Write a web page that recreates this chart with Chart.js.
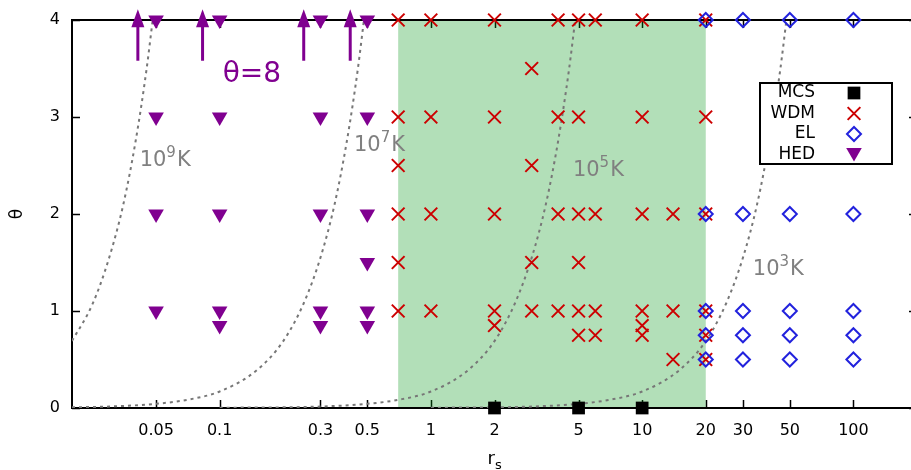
<!DOCTYPE html>
<html>
<head>
<meta charset="utf-8">
<script src="https://cdn.jsdelivr.net/npm/chart.js@4.4.1/dist/chart.umd.min.js"></script>
<style>
  html, body { margin: 0; padding: 0; background: #fff; overflow: hidden; }
  #cadre { position: relative; width: 928px; height: 470px; }
</style>
</head>
<body>
<div id="cadre"><canvas id="graphique" width="928" height="470"></canvas></div>
<script>
// Points de simulation (r_s, theta)
const mcsRs = [2, 5, 10];
const mcsTheta = [0, 0, 0];

const wdmRs = [
  0.7, 1, 2, 4, 5, 6, 10, 20,
  3,
  0.7, 1, 2, 4, 5, 10, 20,
  0.7, 3,
  0.7, 1, 2, 4, 5, 6, 10, 14, 20,
  0.7, 3, 5,
  0.7, 1, 2, 3, 4, 5, 6, 10, 14, 20,
  2, 10,
  5, 6, 10, 20,
  14, 20,
];
const wdmTheta = [
  4, 4, 4, 4, 4, 4, 4, 4,
  3.5,
  3, 3, 3, 3, 3, 3, 3,
  2.5, 2.5,
  2, 2, 2, 2, 2, 2, 2, 2, 2,
  1.5, 1.5, 1.5,
  1, 1, 1, 1, 1, 1, 1, 1, 1, 1,
  0.85, 0.85,
  0.75, 0.75, 0.75, 0.75,
  0.5, 0.5,
];

const elRs = [20, 30, 50, 100, 20, 30, 50, 100, 20, 30, 50, 100, 20, 30, 50, 100, 20, 30, 50, 100];
const elTheta = [4, 4, 4, 4, 2, 2, 2, 2, 1, 1, 1, 1, 0.75, 0.75, 0.75, 0.75, 0.5, 0.5, 0.5, 0.5];

const hedRs = [0.05, 0.05, 0.05, 0.05, 0.1, 0.1, 0.1, 0.1, 0.1, 0.3, 0.3, 0.3, 0.3, 0.3, 0.5, 0.5, 0.5, 0.5, 0.5, 0.5];
const hedTheta = [4, 3, 2, 1, 4, 3, 2, 1, 0.85, 4, 3, 2, 1, 0.85, 4, 3, 2, 1.5, 1, 0.85];

// Isothermes (pointillés gris), valeurs relevées le long des courbes
const iso9Rs = [0.02, 0.025, 0.03, 0.035, 0.04, 0.045, 0.0482];
const iso9Theta = [0.69, 1.07, 1.55, 2.1, 2.75, 3.48, 4.0];
const iso7Rs = [0.02, 0.03, 0.05, 0.07, 0.1, 0.15, 0.2, 0.25, 0.3, 0.35, 0.4, 0.45, 0.482];
const iso7Theta = [0.007, 0.015, 0.043, 0.084, 0.17, 0.39, 0.69, 1.08, 1.55, 2.1, 2.75, 3.48, 4.0];
const iso5Rs = [0.1, 0.3, 0.5, 0.7, 1, 1.5, 2, 2.5, 3, 3.5, 4, 4.5, 4.82];
const iso5Theta = [0.002, 0.015, 0.043, 0.084, 0.17, 0.39, 0.69, 1.08, 1.55, 2.1, 2.75, 3.48, 4.0];
const iso3Rs = [1, 3, 5, 7, 10, 15, 20, 25, 30, 35, 40, 45, 48.2];
const iso3Theta = [0.002, 0.015, 0.043, 0.084, 0.17, 0.39, 0.69, 1.08, 1.55, 2.1, 2.75, 3.48, 4.0];

// Flèches "θ=8" (r_s, départ, arrivée)
const flecheRs = [0.041, 0.083, 0.25, 0.415];
const flecheDe = [3.58, 3.58, 3.58, 3.58];
const flecheA = [4.11, 4.11, 4.11, 4.11];

// Axes
const xTicks = [0.05, 0.1, 0.3, 0.5, 1, 2, 5, 10, 20, 30, 50, 100];
const xTickLabels = ['0.05', '0.1', '0.3', '0.5', '1', '2', '5', '10', '20', '30', '50', '100'];
const yTicks = [0, 1, 2, 3, 4];
const zoneVerte = [0.7, 20];

const nomsSeries = ['MCS', 'WDM', 'EL', 'HED'];

// Étiquettes d'isothermes : [exposant, r_s, theta] (position du coin bas gauche)
const etiquettesIso = [
  ['9', 0.0418, 2.49],
  ['7', 0.432, 2.65],
  ['5', 4.70, 2.39],
  ['3', 33.4, 1.37],
];

const POLICE = "'DejaVu Sans', sans-serif";
Chart.defaults.font.family = POLICE;

function enPoints(rs, theta) {
  return rs.map((r, i) => ({ x: r, y: theta[i] }));
}

function isotherme(rs, theta) {
  return {
    data: enPoints(rs, theta),
    showLine: true,
    pointRadius: 0,
    borderColor: '#777777',
    borderWidth: 2,
    borderDash: [3, 4],
    cubicInterpolationMode: 'monotone',
    order: 5,
  };
}

const jeuxDonnees = [
  {
    label: nomsSeries[0],
    data: enPoints(mcsRs, mcsTheta),
    pointStyle: 'rect',
    pointRadius: 9,
    backgroundColor: '#000000',
    borderColor: '#000000',
    borderWidth: 0,
    clip: false,
    order: 3,
  },
  {
    label: nomsSeries[1],
    data: enPoints(wdmRs, wdmTheta),
    pointStyle: 'crossRot',
    pointRadius: 9,
    backgroundColor: 'transparent',
    borderColor: '#cc0000',
    borderWidth: 2,
    clip: false,
    order: 2,
  },
  {
    label: nomsSeries[2],
    data: enPoints(elRs, elTheta),
    pointStyle: 'rectRot',
    pointRadius: 7,
    backgroundColor: 'transparent',
    borderColor: '#2222dd',
    borderWidth: 2,
    clip: false,
    order: 1,
  },
  {
    label: nomsSeries[3],
    data: enPoints(hedRs, hedTheta),
    pointStyle: 'triangle',
    rotation: 180,
    pointRadius: 9,
    backgroundColor: '#800090',
    borderColor: '#800090',
    borderWidth: 0,
    clip: false,
    order: 0,
  },
  isotherme(iso9Rs, iso9Theta),
  isotherme(iso7Rs, iso7Theta),
  isotherme(iso5Rs, iso5Theta),
  isotherme(iso3Rs, iso3Theta),
];

function dessinerPuissance(ctx, x, y, exposant) {
  ctx.font = `21px ${POLICE}`;
  ctx.fillText('10', x, y);
  let dx = ctx.measureText('10').width;
  ctx.font = `15px ${POLICE}`;
  ctx.fillText(exposant, x + dx, y - 9);
  dx += ctx.measureText(exposant).width + 1;
  ctx.font = `21px ${POLICE}`;
  ctx.fillText('K', x + dx, y);
}

const decor = {
  id: 'decor',
  beforeDatasetsDraw(chart) {
    const { ctx, chartArea: ca } = chart;
    const x = chart.scales.x;
    const y = chart.scales.y;
    ctx.save();

    // graduations intérieures (bas/haut, gauche/droite)
    ctx.strokeStyle = '#000';
    ctx.lineWidth = 1.5;
    ctx.beginPath();
    xTicks.forEach((v) => {
      const px = Math.round(x.getPixelForValue(v)) + 0.5;
      ctx.moveTo(px, ca.bottom);
      ctx.lineTo(px, ca.bottom - 8);
      ctx.moveTo(px, ca.top);
      ctx.lineTo(px, ca.top + 8);
    });
    yTicks.forEach((v) => {
      const py = Math.round(y.getPixelForValue(v)) + 0.5;
      ctx.moveTo(ca.left, py);
      ctx.lineTo(ca.left + 8, py);
      ctx.moveTo(ca.right, py);
      ctx.lineTo(ca.right - 8, py);
    });
    ctx.stroke();

    // zone verte
    const x0 = x.getPixelForValue(zoneVerte[0]);
    const x1 = x.getPixelForValue(zoneVerte[1]);
    ctx.fillStyle = 'rgba(0, 150, 20, 0.3)';
    ctx.fillRect(x0, ca.top, x1 - x0, ca.bottom - ca.top);

    // cadre
    ctx.lineWidth = 2;
    ctx.strokeRect(ca.left, ca.top, ca.right - ca.left, ca.bottom - ca.top);
    ctx.restore();
  },
  afterDatasetsDraw(chart) {
    const { ctx, chartArea: ca } = chart;
    const x = chart.scales.x;
    const y = chart.scales.y;
    ctx.save();

    // flèches violettes
    ctx.fillStyle = '#800090';
    ctx.strokeStyle = '#800090';
    flecheRs.forEach((r, i) => {
      const px = x.getPixelForValue(r);
      const yBas = y.getPixelForValue(flecheDe[i]);
      const yHaut = y.getPixelForValue(flecheA[i]);
      ctx.lineWidth = 3;
      ctx.beginPath();
      ctx.moveTo(px, yBas);
      ctx.lineTo(px, yHaut + 14);
      ctx.stroke();
      ctx.beginPath();
      ctx.moveTo(px, yHaut);
      ctx.lineTo(px - 6.5, yHaut + 18);
      ctx.lineTo(px + 6.5, yHaut + 18);
      ctx.closePath();
      ctx.fill();
    });

    // texte θ=8
    ctx.font = `28px ${POLICE}`;
    ctx.textBaseline = 'alphabetic';
    ctx.textAlign = 'left';
    ctx.fillText('θ=8', x.getPixelForValue(0.1033), y.getPixelForValue(3.36));

    // étiquettes des isothermes
    ctx.fillStyle = '#808080';
    etiquettesIso.forEach(([exp, r, t]) => {
      dessinerPuissance(ctx, x.getPixelForValue(r), y.getPixelForValue(t), exp);
    });

    // légende
    const lx0 = 760, ly0 = 83, lx1 = 892, ly1 = 164;
    ctx.fillStyle = '#fff';
    ctx.fillRect(lx0, ly0, lx1 - lx0, ly1 - ly0);
    ctx.strokeStyle = '#000';
    ctx.lineWidth = 2;
    ctx.strokeRect(lx0, ly0, lx1 - lx0, ly1 - ly0);
    ctx.font = `17px ${POLICE}`;
    ctx.textAlign = 'right';
    ctx.textBaseline = 'middle';
    nomsSeries.forEach((nom, i) => {
      const ds = chart.data.datasets[i];
      const yy = ly0 + 10 + i * 20.5;
      ctx.fillStyle = '#000';
      ctx.fillText(nom, 815, yy);
      ctx.save();
      ctx.fillStyle = ds.backgroundColor;
      ctx.strokeStyle = ds.borderColor;
      ctx.lineWidth = ds.borderWidth;
      Chart.helpers.drawPoint(ctx, {
        pointStyle: ds.pointStyle,
        rotation: ds.rotation || 0,
        radius: ds.pointRadius,
        borderWidth: ds.borderWidth,
      }, 854, ds.pointStyle === 'triangle' ? yy - 2 : yy);
      ctx.restore();
    });

    // titres des axes
    ctx.fillStyle = '#000';
    ctx.textAlign = 'center';
    ctx.textBaseline = 'middle';
    ctx.save();
    ctx.translate(18, (ca.top + ca.bottom) / 2);
    ctx.rotate(-Math.PI / 2);
    ctx.font = `17px ${POLICE}`;
    ctx.fillText('θ', 0, 0);
    ctx.restore();

    const cx = (ca.left + ca.right) / 2;
    ctx.textAlign = 'left';
    ctx.textBaseline = 'alphabetic';
    ctx.font = `18px ${POLICE}`;
    const wr = ctx.measureText('r').width;
    ctx.fillText('r', cx - 7, 464);
    ctx.font = `13px ${POLICE}`;
    ctx.fillText('s', cx - 7 + wr, 469);
    ctx.restore();
  },
};

new Chart(document.getElementById('graphique'), {
  type: 'scatter',
  data: { datasets: jeuxDonnees },
  options: {
    responsive: false,
    animation: false,
    events: [],
    layout: { padding: { top: 16, right: 8, left: 0, bottom: 0 } },
    plugins: { legend: { display: false }, tooltip: { enabled: false } },
    scales: {
      x: {
        type: 'logarithmic',
        min: 0.02,
        max: 200,
        grid: { display: false, drawTicks: false },
        border: { display: false },
        afterBuildTicks: (scale) => {
          scale.ticks = xTicks.map((v) => ({ value: v }));
        },
        afterFit: (scale) => { scale.height = 62; },
        ticks: {
          autoSkip: false,
          maxRotation: 0,
          minRotation: 0,
          padding: 13,
          color: '#000',
          font: { size: 16 },
          callback: (val, i) => xTickLabels[i],
        },
      },
      y: {
        min: 0,
        max: 4,
        grid: { display: false, drawTicks: false },
        border: { display: false },
        afterBuildTicks: (scale) => {
          scale.ticks = yTicks.map((v) => ({ value: v }));
        },
        afterFit: (scale) => { scale.width = 72; },
        ticks: {
          padding: 12,
          color: '#000',
          font: { size: 16, lineHeight: 1 },
          callback: (val) => String(val),
        },
      },
    },
  },
  plugins: [decor],
});
</script>
</body>
</html>
